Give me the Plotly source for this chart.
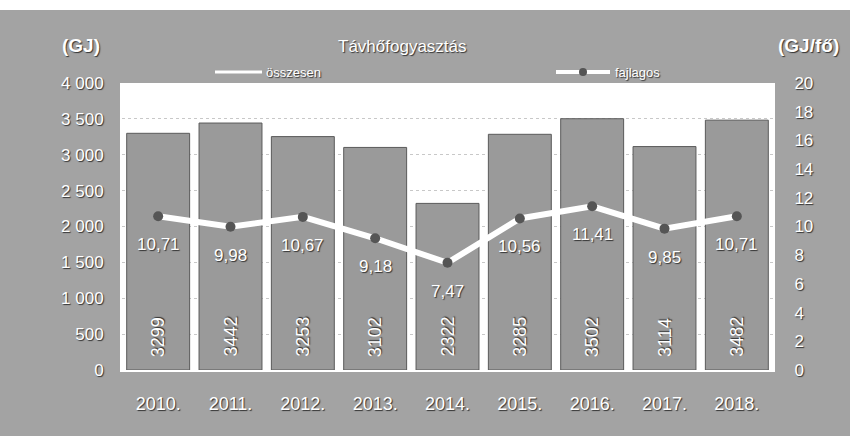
import plotly.graph_objects as go

years = ["2010.", "2011.", "2012.", "2013.", "2014.", "2015.", "2016.", "2017.", "2018."]
total_gj = [3299, 3442, 3253, 3102, 2322, 3285, 3502, 3114, 3482]
per_capita = [10.71, 9.98, 10.67, 9.18, 7.47, 10.56, 11.41, 9.85, 10.71]
left_ticks = [0, 500, 1000, 1500, 2000, 2500, 3000, 3500, 4000]
left_tick_text = ["0", "500", "1 000", "1 500", "2 000", "2 500", "3 000", "3 500", "4 000"]
right_ticks = [0, 2, 4, 6, 8, 10, 12, 14, 16, 18, 20]

BG = "#a3a3a3"
FONT = "Liberation Sans, Arial, sans-serif"
SH = "1px 1px 1px #333333"
W, H = 850, 436
plot_l, plot_r, plot_t, plot_b = 122, 773, 83, 370


def px_to_paper(px, py):
    return (px - plot_l) / (plot_r - plot_l), (plot_b - py) / (plot_b - plot_t)


fig = go.Figure()
fig.add_trace(go.Bar(
    x=years, y=total_gj, name="összesen",
    marker=dict(color="#9a9a9a", line=dict(color="#5a5a5a", width=1)),
    yaxis="y",
))
fig.add_trace(go.Scatter(
    x=years, y=per_capita, name="fajlagos", mode="lines+markers",
    line=dict(color="white", width=6),
    marker=dict(color="#555555", size=10, symbol="circle"),
    yaxis="y2",
))

# bar value labels (vertical, near the bottom of the bars)
for i, v in enumerate(total_gj):
    fig.add_annotation(x=i, y=0, xref="x", yref="y", text=str(v), textangle=-90,
                       yanchor="bottom", yshift=11, showarrow=False,
                       font=dict(color="white", size=18, family=FONT, shadow=SH))
# line value labels (below markers)
for i, v in enumerate(per_capita):
    fig.add_annotation(x=i, y=v, xref="x", yref="y2", text=f"{v:.2f}".replace(".", ","),
                       yanchor="top", yshift=-17, showarrow=False,
                       font=dict(color="white", size=17, family=FONT, shadow=SH))

for txt, px, py, sz, bold in [("Távhőfogyasztás", 402, 47, 17, False),
                              ("(GJ)", 81, 46, 19, True),
                              ("(GJ/fő)", 808, 46, 19, True)]:
    xx, yy = px_to_paper(px, py)
    fig.add_annotation(x=xx, y=yy, xref="paper", yref="paper",
                       xanchor="center", yanchor="middle",
                       text=f"<b>{txt}</b>" if bold else txt, showarrow=False,
                       font=dict(color="white", size=sz, family=FONT, shadow=SH))

# manual legend
for txt, px in [("összesen", 264), ("fajlagos", 613)]:
    xx, yy = px_to_paper(px, 72)
    fig.add_annotation(x=xx, y=yy, xref="paper", yref="paper", text=txt,
                       xanchor="left", yanchor="middle", showarrow=False,
                       font=dict(color="white", size=13, family=FONT, shadow=SH))
x0, y0 = px_to_paper(215, 72)
x1, _ = px_to_paper(262, 72)
fig.add_shape(type="line", xref="paper", yref="paper", x0=x0, x1=x1, y0=y0, y1=y0,
              line=dict(color="white", width=3))
x0, _ = px_to_paper(556, 72)
x1, _ = px_to_paper(610, 72)
fig.add_shape(type="line", xref="paper", yref="paper", x0=x0, x1=x1, y0=y0, y1=y0,
              line=dict(color="white", width=4))
cx0, cy0 = px_to_paper(579, 76)
cx1, cy1 = px_to_paper(587, 68)
fig.add_shape(type="circle", xref="paper", yref="paper", x0=cx0, x1=cx1, y0=cy0, y1=cy1,
              fillcolor="#555555", line=dict(width=0))

# white strip at the very top of the scan
_, ytop = px_to_paper(0, 10)
fig.add_shape(type="rect", xref="paper", yref="paper", x0=-1, x1=2, y0=ytop, y1=3,
              fillcolor="white", line=dict(width=0), layer="below")

fig.update_layout(
    width=W, height=H,
    margin=dict(l=plot_l, r=W - plot_r, t=plot_t, b=H - plot_b, pad=0, autoexpand=False),
    paper_bgcolor=BG, plot_bgcolor="white",
    bargap=0.13,
    font=dict(family=FONT, color="white"),
    showlegend=False,
    xaxis=dict(type="category", range=[-0.5, len(years) - 0.5], showgrid=False,
               showline=True, linecolor="white", linewidth=2,
               tickfont=dict(size=18, color="white", family=FONT, shadow=SH),
               ticks="", ticklabelstandoff=16, automargin=False),
    yaxis=dict(range=[0, 4000], tickvals=left_ticks, ticktext=left_tick_text,
               showgrid=True, gridcolor="#c8c8c8", griddash="dot", gridwidth=1,
               showline=True, linecolor="white", linewidth=2, zeroline=False,
               ticks="", ticklabelstandoff=13, automargin=False,
               tickfont=dict(size=17, color="white", family=FONT, shadow=SH)),
    yaxis2=dict(range=[0, 20], tickvals=right_ticks, overlaying="y", side="right",
                showgrid=False, showline=True, linecolor="white", linewidth=2,
                zeroline=False, ticks="", ticklabelstandoff=16, automargin=False,
                tickfont=dict(size=17, color="white", family=FONT, shadow=SH)),
)

fig.write_html("out.html", config={"displayModeBar": False},
               post_script="document.body.style.margin='0';")
